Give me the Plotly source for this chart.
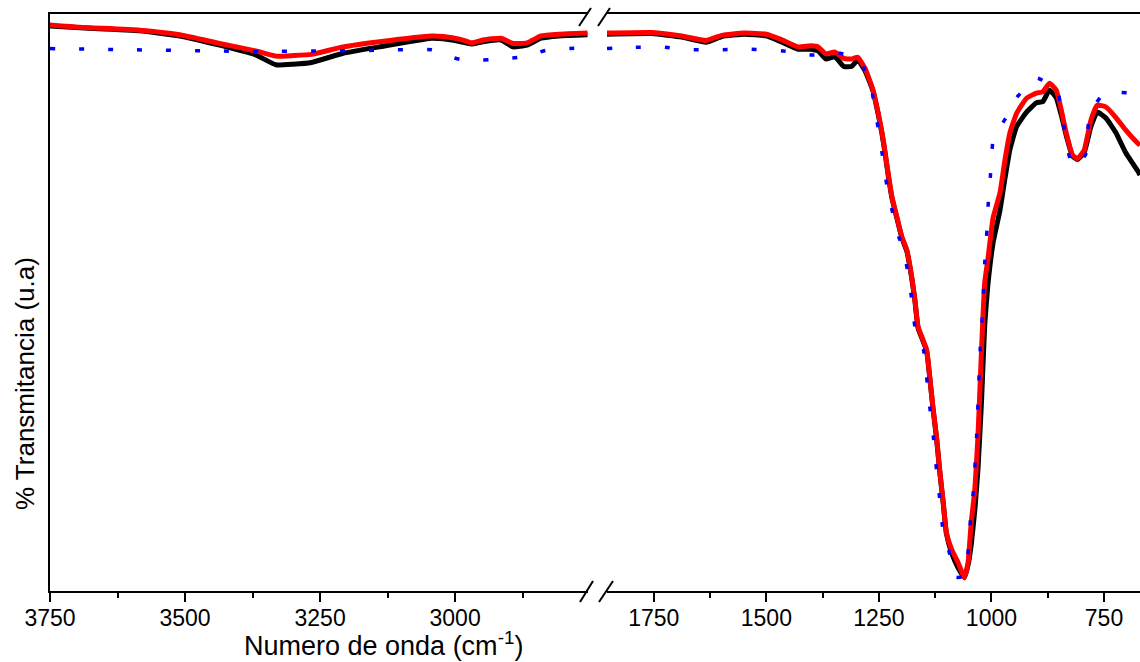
import plotly.graph_objects as go

# ---- FTIR spectra, high-wavenumber window (cm^-1) ----
wn_left = [3750, 3695, 3584, 3510, 3436, 3369, 3332, 3300, 3266, 3207, 3140,
           3044, 3022, 2990, 2970, 2948, 2915, 2893, 2867, 2841, 2808, 2755]
red_left = [98.1, 97.7, 97.2, 96.4, 94.9, 93.6, 92.7, 92.8, 93.0, 94.3, 95.2,
            96.2, 96.1, 95.6, 95.0, 95.5, 95.8, 94.9, 95.0, 96.2, 96.5, 96.7]
black_left = [97.9, 97.6, 97.1, 96.2, 94.6, 92.9, 91.2, 91.3, 91.6, 93.2, 94.3,
              95.8, 95.7, 95.2, 94.8, 95.2, 95.5, 94.3, 94.6, 95.8, 96.2, 96.4]

wn_left_blue = [3750, 3600, 3450, 3350, 3250, 3150, 3043, 3010, 2989, 2960,
                2935, 2882, 2850, 2828, 2775, 2755]
blue_left = [94.0, 93.8, 93.6, 93.5, 93.6, 93.7, 93.8, 92.6, 92.1, 92.0,
             92.1, 92.5, 93.2, 93.8, 94.1, 94.2]

# ---- fingerprint window (cm^-1) ----
wn_right = [1854, 1754, 1688, 1634, 1599, 1549, 1500, 1468, 1430, 1401,
            1385, 1368, 1348, 1328, 1311, 1297, 1281, 1263, 1252, 1243,
            1236, 1229, 1221, 1210, 1199, 1188, 1177, 1170, 1163, 1144,
            1137, 1130, 1122, 1115, 1107, 1100, 1088, 1074, 1060, 1052,
            1045, 1037, 1030, 1022, 1015, 1008, 996, 981, 970, 959,
            944, 922, 900, 886, 871, 856, 845, 834, 820, 809,
            794, 779, 765, 746, 724, 702, 675, 670]
red_right = [96.7, 96.8, 96.2, 95.4, 96.3, 96.7, 96.5, 95.6, 94.3, 94.5,
             94.3, 93.1, 93.4, 92.3, 92.2, 92.5, 90.6, 86.8, 83.0, 79.4,
             75.9, 72.1, 68.3, 64.8, 61.4, 59.1, 54.4, 50.5, 45.8, 41.8,
             37.1, 31.9, 26.7, 21.0, 15.3, 10.1, 7.1, 4.9, 2.3, 4.9,
             11.8, 17.5, 26.7, 41.8, 53.4, 57.4, 64.8, 69.0, 74.7, 79.4,
             82.8, 85.4, 86.3, 86.5, 88.0, 86.8, 83.4, 79.4, 75.6, 74.9,
             76.4, 81.6, 84.2, 83.9, 82.1, 79.9, 77.6, 77.3]
black_right = [96.5, 96.6, 96.0, 95.1, 96.1, 96.5, 96.2, 95.2, 93.9, 93.9,
               93.6, 92.2, 92.6, 90.9, 90.9, 92.0, 90.2, 86.6, 82.8, 79.2,
               75.7, 71.9, 68.1, 64.6, 61.2, 58.9, 54.2, 50.3, 45.6, 41.6,
               36.9, 31.7, 26.5, 20.8, 15.1, 9.9, 6.5, 4.0, 2.3, 4.5,
               8.0, 14.0, 21.0, 33.0, 46.0, 53.0, 60.5, 66.0, 71.5, 76.5,
               80.5, 83.0, 84.6, 84.8, 86.8, 85.5, 82.5, 79.0, 75.4, 74.8,
               76.0, 80.5, 83.0, 82.0, 79.5, 76.0, 72.8, 72.1]

wn_right_blue = [1854, 1799, 1737, 1672, 1608, 1543, 1463, 1399, 1336, 1300,
                 1283, 1266, 1258, 1250, 1243, 1236, 1228, 1217, 1206, 1195,
                 1184, 1177, 1170, 1151, 1144, 1137, 1129, 1122, 1114, 1107,
                 1095, 1079, 1065, 1054, 1048, 1040, 1033, 1025, 1019, 1015,
                 1012, 1009, 1007, 1003, 1000, 996, 968, 943, 899, 853,
                 846, 836, 833, 818, 791, 787, 780, 749, 680, 670]
blue_right = [94.0, 94.2, 94.3, 93.8, 93.8, 93.9, 93.6, 92.9, 93.2, 92.3,
              90.6, 86.8, 83.2, 79.4, 75.9, 72.1, 68.3, 64.8, 61.4, 59.1,
              54.4, 50.5, 45.8, 41.8, 37.1, 31.9, 26.7, 21.0, 15.3, 10.1,
              7.1, 2.4, 2.5, 5.0, 11.0, 17.5, 26.7, 41.8, 49.4, 56.8,
              60.1, 63.8, 67.4, 71.1, 74.7, 78.3, 82.0, 85.6, 88.9, 86.8,
              83.0, 79.4, 77.1, 73.5, 75.6, 79.4, 83.0, 86.3, 86.3, 86.3]

FONT = "Liberation Sans, Arial, sans-serif"
W, H = 1140, 662
ML, MR, MT, MB = 50, 0, 14, 71
PW, PH = W - ML - MR, H - MT - MB


def px(x):
    return (x - ML) / PW


def py(y):
    return (H - MB - y) / PH


fig = go.Figure()

solid = dict(shape="spline", smoothing=0.4)
fig.add_trace(go.Scatter(x=wn_left, y=black_left, xaxis="x", yaxis="y", mode="lines",
                         line=dict(color="black", width=5, **solid), showlegend=False))
fig.add_trace(go.Scatter(x=wn_right, y=black_right, xaxis="x2", yaxis="y", mode="lines",
                         line=dict(color="black", width=5, **solid), showlegend=False))
fig.add_trace(go.Scatter(x=wn_left, y=red_left, xaxis="x", yaxis="y", mode="lines",
                         line=dict(color="#ff0000", width=5, **solid), showlegend=False))
fig.add_trace(go.Scatter(x=wn_right, y=red_right, xaxis="x2", yaxis="y", mode="lines",
                         line=dict(color="#ff0000", width=5, **solid), showlegend=False))
dotted = dict(color="#0000ff", width=3.5, dash="5px,24px", shape="spline", smoothing=0.4)
fig.add_trace(go.Scatter(x=wn_left_blue, y=blue_left, xaxis="x", yaxis="y", mode="lines",
                         line=dotted, showlegend=False))
fig.add_trace(go.Scatter(x=wn_right_blue, y=blue_right, xaxis="x2", yaxis="y", mode="lines",
                         line=dotted, showlegend=False))

split_l = (588 - ML) / PW
split_r = (607 - ML) / PW
left_range = [3750, 2754]
right_range = [1854, 670]

common_x = dict(showline=True, linewidth=2, linecolor="black", mirror=True,
                showgrid=False, zeroline=False, ticks="outside", ticklen=9,
                tickwidth=2, tickcolor="black", tickmode="linear", tick0=0, dtick=250,
                ticklabelstandoff=-4,
                minor=dict(ticks="outside", ticklen=5, tickwidth=2, tickcolor="black",
                           dtick=125, tick0=0, showgrid=False),
                tickfont=dict(family=FONT, size=23, color="black"))

top_ticks = dict(side="top", anchor="y", ticks="inside", ticklen=3, tickwidth=1.5,
                 tickcolor="black", showticklabels=False, showgrid=False,
                 zeroline=False, showline=False, tickmode="linear", tick0=0, dtick=125)

fig.update_layout(
    width=W, height=H,
    margin=dict(l=ML, r=MR, t=MT, b=MB),
    paper_bgcolor="white", plot_bgcolor="white",
    xaxis=dict(domain=[0, split_l], range=left_range, anchor="y", **common_x),
    xaxis2=dict(domain=[split_r, 1], range=right_range, anchor="y", **common_x),
    xaxis3=dict(overlaying="x", range=left_range, **top_ticks),
    xaxis4=dict(overlaying="x2", range=right_range, **top_ticks),
    yaxis=dict(range=[0, 100], showline=True, linewidth=2, linecolor="black",
               showticklabels=False, ticks="", showgrid=False, zeroline=False),
)

# axis-break marks (double slashes) at top and bottom
breaks = [((579, 26), (591, 8)), ((598, 26), (610, 8)),
          ((580, 602), (593, 581)), ((599, 602), (613, 581))]
for (x0, y0), (x1, y1) in breaks:
    fig.add_shape(type="line", xref="paper", yref="paper",
                  x0=px(x0), y0=py(y0), x1=px(x1), y1=py(y1),
                  line=dict(color="black", width=2))

fig.add_annotation(text="Numero de onda (cm<sup>-1</sup>)", xref="paper", yref="paper",
                   x=px(383), y=py(644), showarrow=False, xanchor="center", yanchor="middle",
                   font=dict(family=FONT, size=27, color="black"))
fig.add_annotation(text="% Transmitancia (u.a)", xref="paper", yref="paper",
                   x=px(25), y=py(384), showarrow=False, textangle=-90,
                   xanchor="center", yanchor="middle",
                   font=dict(family=FONT, size=26, color="black"))

fig.write_html("out.html")
